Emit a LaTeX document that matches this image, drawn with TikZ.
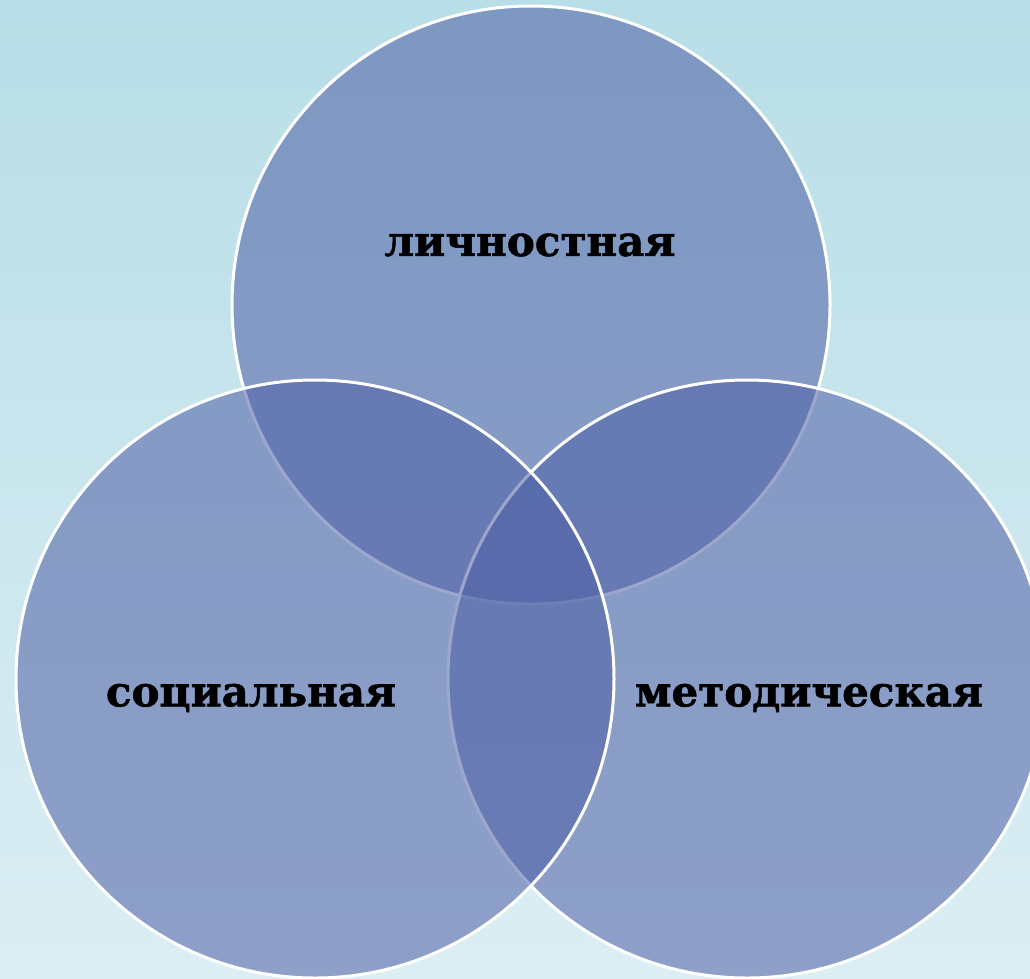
\documentclass[tikz,border=0pt]{standalone}
\usepackage{fontspec}
\setmainfont{DejaVu Serif}
\newfontfamily\lblfont{DejaVu Serif}[BoldFeatures={FakeBold=1.3}]
\definecolor{bgtop}{RGB}{184,222,231}
\definecolor{bgbot}{RGB}{220,238,244}
\definecolor{vennfill}{RGB}{78,95,165}
\begin{document}
\begin{tikzpicture}
[x=1pt, y=-1pt,
venn/.style={circle, draw=white, line width=3pt, fill=vennfill, fill opacity=0.55, inner sep=0pt, outer sep=0pt, minimum size=598pt},
lbl/.style={text=black, font=\lblfont\fontsize{42}{42}\bfseries\selectfont, inner sep=0pt}]

\useasboundingbox (0,0) rectangle (1030,979);
\clip (0,0) rectangle (1030,979);
\shade[top color=bgtop, bottom color=bgbot] (0,0) rectangle (1030,979);

\node[venn] (top) at (531,305) {};
\node[venn] (right) at (747,679) {};
\node[venn] (left) at (315,679) {};

\node[lbl] (personal) at (530,245) {личностная};
\node[lbl] (social) at (251,698) {социальная};
\node[lbl] (method) at (809,698) {методическая};

\end{tikzpicture}
\end{document}
